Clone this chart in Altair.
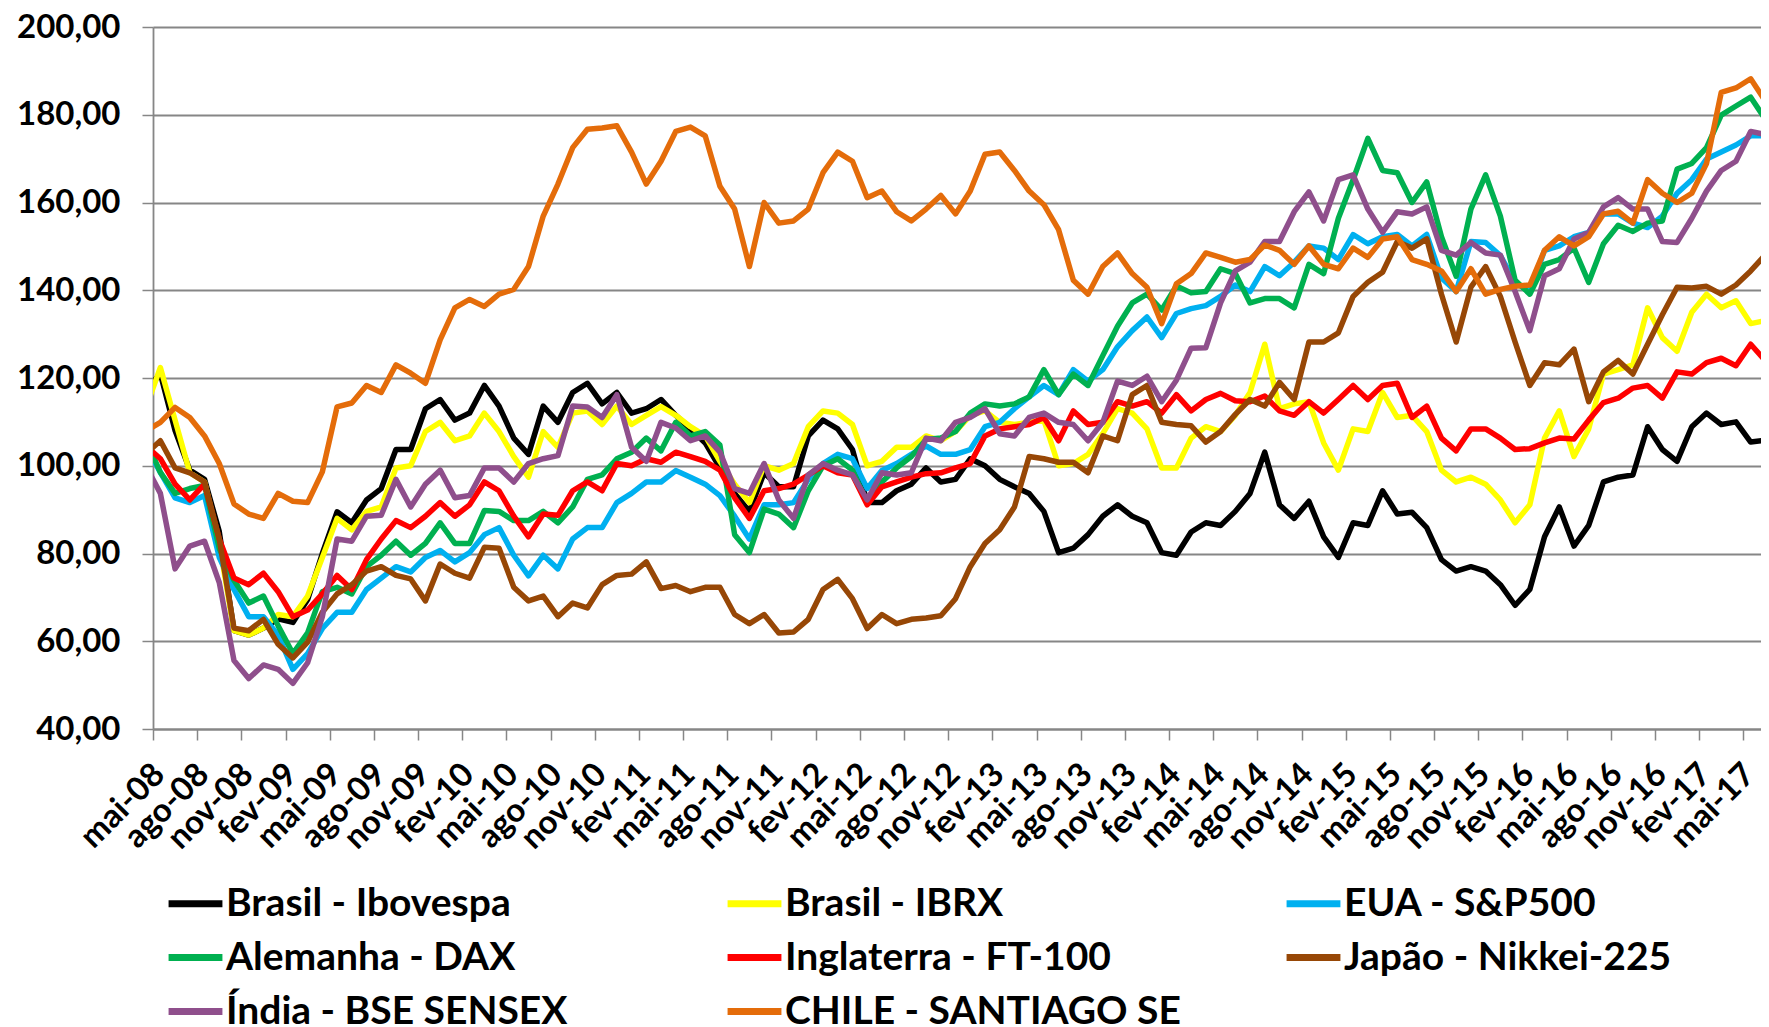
import json
import altair as alt
import pandas as pd

SERIES = ["Brasil - Ibovespa", "Brasil - IBRX", "EUA - S&P500", "Alemanha - DAX",
          "Inglaterra - FT-100", "Japão - Nikkei-225", "Índia - BSE SENSEX", "CHILE - SANTIAGO SE"]
COLORS = ["#000000", "#FFFF00", "#00B0F0", "#00B050", "#FF0000", "#974706", "#8F4F8C", "#E46C0A"]

# month index: 0 = mai-08 ; points sit in the middle of each month, from abr-08 (-1) to jun-17 (109)
MONTHS = list(range(-1, 110))

TICK_LABELS = ["mai-08", "ago-08", "nov-08", "fev-09", "mai-09", "ago-09", "nov-09", "fev-10",
               "mai-10", "ago-10", "nov-10", "fev-11", "mai-11", "ago-11", "nov-11", "fev-12",
               "mai-12", "ago-12", "nov-12", "fev-13", "mai-13", "ago-13", "nov-13", "fev-14",
               "mai-14", "ago-14", "nov-14", "fev-15", "mai-15", "ago-15", "nov-15", "fev-16",
               "mai-16", "ago-16", "nov-16", "fev-17", "mai-17"]

IBOVESPA = [117.0, 121.0, 108.0, 99.0, 96.9, 85.0, 62.4, 61.4, 63.0, 65.1,
            64.3, 69.5, 80.0, 89.5, 87.0, 92.2, 94.8, 103.7, 103.7, 113.0,
            115.1, 110.4, 112.0, 118.3, 113.6, 106.3, 102.6, 113.6, 109.9, 116.7,
            118.8, 114.1, 116.7, 112.0, 113.0, 115.1, 111.5, 108.4, 105.2, 99.5,
            93.7, 89.6, 98.4, 95.2, 95.2, 106.8, 110.4, 108.4, 103.7, 91.6,
            91.6, 94.3, 95.8, 99.5, 96.3, 96.9, 101.6, 100.0, 96.9, 95.2,
            93.7, 89.6, 80.2, 81.2, 84.3, 88.5, 91.1, 88.5, 87.0, 80.2,
            79.6, 84.9, 87.0, 86.4, 89.6, 93.7, 103.1, 91.1, 88.0, 91.9,
            83.8, 79.1, 87.0, 86.4, 94.3, 89.0, 89.4, 85.9, 78.6, 76.0,
            77.0, 76.0, 72.9, 68.2, 71.8, 83.8, 90.6, 81.7, 86.4, 96.3,
            97.4, 97.9, 108.9, 103.7, 101.0, 108.9, 112.0, 109.4, 110.0, 105.4,
            105.8]

IBRX = [113.0, 122.4, 110.4, 98.4, 96.3, 82.3, 62.4, 61.4, 63.0, 66.1,
        65.6, 70.3, 79.1, 88.0, 85.4, 89.6, 90.6, 99.5, 100.0, 107.8,
        109.9, 105.7, 106.8, 112.0, 107.8, 102.1, 97.4, 107.8, 104.2, 112.0,
        112.5, 109.4, 113.6, 109.4, 111.5, 113.5, 111.5, 108.9, 106.8, 101.0,
        95.8, 91.6, 100.0, 99.0, 100.5, 108.9, 112.5, 112.0, 109.4, 100.0,
        101.0, 104.2, 104.2, 106.8, 105.7, 107.8, 111.5, 112.5, 109.9, 109.4,
        109.9, 110.4, 100.0, 100.5, 102.6, 107.3, 113.0, 112.0, 108.4, 99.5,
        99.5, 106.3, 108.9, 107.8, 111.5, 116.7, 127.7, 113.0, 114.1, 114.6,
        105.2, 99.0, 108.4, 107.8, 116.7, 111.0, 111.5, 107.8, 99.0, 96.3,
        97.4, 95.8, 92.2, 87.0, 91.1, 106.3, 112.5, 102.1, 108.4, 120.9,
        121.9, 123.0, 136.0, 129.2, 126.1, 135.0, 139.1, 136.0, 137.6, 132.4,
        133.1]

SP500 = [104.5, 98.5, 92.7, 91.6, 93.2, 79.1, 71.8, 65.6, 65.6, 61.4,
         53.6, 57.2, 62.9, 66.6, 66.6, 71.8, 74.4, 77.0, 75.8, 79.1,
         80.7, 78.1, 80.2, 84.3, 85.9, 79.6, 74.9, 79.6, 76.5, 83.3,
         85.9, 85.9, 91.6, 93.7, 96.3, 96.3, 98.9, 97.4, 95.8, 93.2,
         88.5, 83.3, 91.1, 91.1, 91.6, 96.9, 100.5, 102.6, 101.6, 94.8,
         98.9, 100.5, 102.6, 104.5, 102.6, 102.6, 103.7, 108.9, 109.9, 113.0,
         115.7, 118.3, 116.2, 121.9, 119.3, 121.9, 127.1, 130.8, 133.9, 129.2,
         134.7, 135.8, 136.5, 138.6, 141.2, 139.7, 145.4, 143.3, 146.4, 150.1,
         149.6, 147.0, 152.7, 150.6, 152.2, 152.7, 150.1, 152.7, 142.8, 139.7,
         151.1, 150.9, 147.9, 141.8, 139.7, 149.1, 150.1, 152.2, 153.2, 157.4,
         157.4, 155.3, 154.3, 156.9, 162.1, 165.2, 169.9, 171.5, 173.1, 175.2,
         175.2]

DAX = [106.0, 98.5, 93.7, 94.8, 95.5, 81.2, 73.9, 68.7, 70.3, 63.5,
       57.2, 61.9, 71.3, 72.3, 70.8, 77.0, 79.6, 82.8, 79.6, 82.3,
       87.0, 82.3, 82.3, 89.8, 89.6, 87.5, 87.5, 89.6, 87.0, 90.6,
       96.9, 97.9, 101.6, 103.1, 106.3, 103.4, 109.9, 106.8, 107.8, 104.7,
       84.3, 80.2, 90.1, 89.0, 85.9, 94.3, 100.0, 101.6, 99.0, 91.6,
       96.3, 99.5, 102.1, 106.0, 106.3, 107.8, 112.0, 114.1, 113.6, 114.1,
       115.7, 121.9, 116.2, 120.9, 118.3, 125.1, 131.8, 137.1, 139.1, 135.5,
       141.0, 139.4, 139.7, 144.9, 143.8, 137.1, 138.1, 138.1, 136.0, 145.9,
       143.8, 156.4, 165.2, 174.6, 167.3, 166.8, 160.0, 164.7, 152.2, 143.2,
       158.5, 166.3, 156.9, 142.3, 139.1, 145.9, 147.0, 149.6, 141.8, 150.6,
       154.8, 153.4, 155.3, 155.8, 167.6, 168.9, 172.5, 179.9, 182.0, 184.0,
       178.9]

FT100 = [104.6, 101.6, 95.8, 92.2, 95.8, 83.3, 74.4, 72.9, 75.5, 71.3,
         65.6, 67.1, 70.8, 75.0, 71.8, 78.6, 83.3, 87.5, 85.9, 88.5,
         91.6, 88.5, 91.1, 96.3, 94.3, 88.5, 83.8, 89.0, 88.7, 94.3,
         96.3, 94.3, 100.5, 100.0, 101.6, 100.8, 103.1, 102.1, 101.0, 99.0,
         92.7, 88.0, 94.3, 94.8, 95.8, 97.9, 100.0, 98.4, 97.9, 91.1,
         95.2, 96.3, 97.4, 98.2, 98.4, 99.5, 100.5, 106.8, 108.4, 108.9,
         109.4, 111.0, 105.7, 112.5, 109.4, 109.9, 114.6, 113.6, 114.6, 112.0,
         116.2, 112.5, 115.1, 116.5, 114.8, 114.6, 115.9, 112.5, 111.5, 114.6,
         112.0, 115.1, 118.3, 115.1, 118.3, 118.8, 111.0, 113.6, 106.3, 103.4,
         108.4, 108.4, 106.3, 103.7, 103.9, 105.2, 106.3, 106.1, 110.4, 114.4,
         115.4, 117.7, 118.3, 115.4, 121.4, 120.9, 123.5, 124.5, 122.8, 127.7,
         123.9]

NIKKEI = [102.7, 105.7, 99.5, 98.4, 96.3, 83.3, 63.0, 62.4, 65.0, 59.3,
          56.2, 59.8, 66.6, 70.8, 72.9, 76.0, 77.0, 75.0, 74.2, 69.2,
          77.6, 75.5, 74.4, 81.4, 81.2, 72.3, 69.2, 70.3, 65.6, 68.7,
          67.6, 72.9, 75.0, 75.3, 78.1, 72.0, 72.7, 71.3, 72.3, 72.3,
          66.1, 64.0, 66.1, 61.9, 62.1, 65.0, 71.8, 74.1, 69.7, 62.9,
          66.1, 64.0, 65.0, 65.3, 65.8, 69.7, 77.0, 82.3, 85.4, 90.6,
          102.1, 101.6, 100.8, 100.8, 98.4, 106.8, 105.7, 116.2, 118.3, 109.9,
          109.4, 109.1, 105.4, 107.8, 111.7, 115.1, 113.6, 119.0, 115.1, 128.2,
          128.2, 130.3, 138.6, 141.8, 144.1, 151.1, 149.6, 151.7, 139.1, 128.2,
          140.7, 145.4, 138.6, 128.2, 118.3, 123.5, 123.0, 126.6, 114.6, 121.4,
          124.0, 120.9, 127.7, 134.4, 140.7, 140.5, 140.9, 139.1, 141.2, 144.4,
          148.1]

SENSEX = [100.1, 93.7, 76.5, 81.7, 82.8, 73.4, 55.6, 51.5, 54.6, 53.6,
          50.4, 55.1, 65.6, 83.3, 82.8, 88.5, 88.7, 96.9, 90.6, 95.8,
          99.0, 92.7, 93.2, 99.5, 99.5, 96.3, 100.5, 101.6, 102.3, 113.6,
          113.4, 111.0, 116.2, 104.2, 101.0, 109.9, 108.6, 105.7, 106.8, 103.1,
          94.8, 93.7, 100.5, 92.2, 88.0, 97.9, 100.5, 99.0, 97.9, 92.2,
          98.4, 97.9, 98.4, 106.3, 105.7, 109.9, 111.0, 113.0, 107.3, 106.8,
          111.0, 112.0, 109.9, 109.4, 105.7, 109.9, 119.3, 118.3, 120.4, 114.6,
          119.5, 126.8, 126.9, 137.1, 144.4, 146.4, 151.1, 151.1, 157.9, 162.4,
          155.8, 165.2, 166.3, 158.5, 153.2, 157.9, 157.4, 159.0, 149.1, 148.0,
          150.9, 148.5, 148.0, 139.7, 130.8, 143.3, 144.9, 151.7, 153.2, 159.0,
          161.1, 158.5, 158.5, 151.1, 150.9, 156.4, 162.6, 167.3, 169.4, 176.2,
          175.5]

SANTIAGO = [107.9, 109.9, 113.3, 111.0, 106.8, 100.5, 91.3, 89.0, 88.0, 93.7,
            91.9, 91.6, 98.6, 113.4, 114.3, 118.3, 116.7, 123.0, 121.1, 118.8,
            128.7, 136.0, 137.9, 136.3, 139.1, 140.2, 145.4, 156.9, 164.2, 172.5,
            176.7, 177.0, 177.5, 171.5, 164.2, 169.4, 176.2, 177.2, 175.2, 163.7,
            158.5, 145.4, 160.0, 155.3, 155.8, 158.5, 166.8, 171.5, 169.4, 161.1,
            162.6, 157.9, 155.8, 158.5, 161.6, 157.4, 162.6, 171.0, 171.5, 167.3,
            162.6, 159.5, 153.8, 142.3, 139.1, 145.4, 148.5, 143.8, 140.7, 132.4,
            141.5, 143.8, 148.5, 147.5, 146.4, 147.0, 150.3, 149.1, 145.9, 150.1,
            145.9, 144.9, 149.6, 147.5, 151.7, 152.2, 147.0, 145.9, 144.4, 139.7,
            144.9, 139.1, 140.2, 140.9, 141.2, 149.1, 152.2, 150.1, 152.2, 157.4,
            158.0, 155.3, 165.2, 162.1, 160.0, 162.1, 168.9, 185.1, 186.1, 188.2,
            183.1]

VALUES = [IBOVESPA, IBRX, SP500, DAX, FT100, NIKKEI, SENSEX, SANTIAGO]

rows = []
for k, (name, vals) in enumerate(zip(SERIES, VALUES)):
    for m, v in zip(MONTHS, vals):
        rows.append({"t": m + 0.5, "v": v, "serie": name, "k": k})
df = pd.DataFrame(rows)

FONT = "Lato"
GRID = "#868686"
labels_js = json.dumps(TICK_LABELS)

x = alt.X(
    "t:Q",
    scale=alt.Scale(domain=[0, 109.2], nice=False, zero=False),
    axis=alt.Axis(
        values=list(range(0, 109, 3)),
        labelExpr=f"{labels_js}[round(datum.value / 3)]",
        labelAngle=-45, labelAlign="right", labelBaseline="middle",
        labelFont=FONT, labelFontSize=33, labelFontWeight="bold", labelColor="#000000",
        labelPadding=29, labelOffset=6, labelOverlap=False, labelFlush=False,
        grid=False, title=None,
        domainColor=GRID, domainWidth=1.8,
        tickColor=GRID, tickWidth=1.5, tickSize=11,
    ),
)
y = alt.Y(
    "v:Q",
    scale=alt.Scale(domain=[40, 200], nice=False, zero=False),
    axis=alt.Axis(
        values=list(range(40, 201, 20)),
        labelExpr="replace(format(datum.value, '.2f'), '.', ',')",
        labelFont=FONT, labelFontSize=33, labelFontWeight="bold", labelColor="#000000",
        labelPadding=22, title=None,
        grid=True, gridColor=GRID, gridWidth=1.8,
        domainColor=GRID, domainWidth=1.8,
        tickColor=GRID, tickWidth=1.5, tickSize=11,
    ),
)
color = alt.Color(
    "serie:N",
    scale=alt.Scale(domain=SERIES, range=COLORS),
    legend=alt.Legend(
        title=None, orient="none", legendX=12, legendY=846,
        columns=3, direction="horizontal", gridAlign="all",
        columnPadding=91, rowPadding=3,
        symbolType="stroke", symbolStrokeWidth=7, symbolSize=2900,
        labelFont=FONT, labelFontSize=39, labelFontWeight="bold", labelColor="#000000",
        labelOffset=0, labelLimit=0, padding=0, offset=0,
    ),
)

chart = (
    alt.Chart(df)
    .mark_line(strokeWidth=5.5, clip=True, strokeJoin="round")
    .encode(x=x, y=y, color=color, detail="k:O", order="t:Q")
    .properties(
        width=1608, height=702,
        autosize=alt.AutoSizeParams(type="none"),
        padding={"left": 145, "top": 19, "right": 0, "bottom": 298},
    )
    .configure_view(stroke=None)
    .configure(background="#ffffff")
)

chart.save("out.html", embed_options={"renderer": "svg", "actions": False})
